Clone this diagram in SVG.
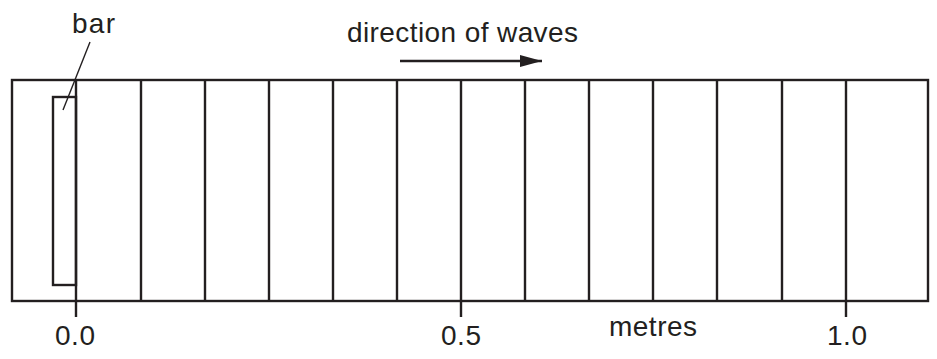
<svg xmlns="http://www.w3.org/2000/svg" width="937" height="359" viewBox="0 0 937 359">
<style>
.t{font-family:"Liberation Sans",Arial,sans-serif;font-size:28px;fill:#231f20}
.ln{stroke:#231f20;stroke-width:2.4;fill:none}
.thin{stroke:#231f20;stroke-width:1.4;fill:none}
</style>
<defs>
<marker id="ah" markerWidth="22" markerHeight="12" refX="22" refY="6" orient="auto" markerUnits="userSpaceOnUse">
<path d="M0,0 L22,6 L0,12 Z" fill="#231f20"/>
</marker>
</defs>
<rect width="937" height="359" fill="#fff"/>
<g id="tank">
<rect class="ln" x="12" y="80" width="916" height="221"/>
</g>
<g id="gridlines">
<path class="ln" d="M141,80V301M205,80V301M269,80V301M333,80V301M397,80V301M461,80V301M525,80V301M589,80V301M653,80V301M717,80V301M782,80V301M846,80V301"/>
</g>
<g id="bar">
<rect class="ln" x="53" y="97" width="23" height="188"/>
</g>
<g id="ticks">
<path class="ln" d="M76,80V317M461,301V317M846,301V317"/>
</g>
<g id="connectors">
<line class="thin" x1="90" y1="42" x2="63" y2="110"/>
<line class="ln" x1="400" y1="61" x2="542" y2="61" marker-end="url(#ah)"/>
</g>
<g id="labels">
<text class="t" x="72" y="33" textLength="43">bar</text>
<text class="t" x="347" y="42" textLength="231">direction of waves</text>
<text class="t" x="55" y="345" textLength="40">0.0</text>
<text class="t" x="441" y="345" textLength="40">0.5</text>
<text class="t" x="827" y="345" textLength="40">1.0</text>
<text class="t" x="609" y="336" textLength="88">metres</text>
</g>
</svg>
